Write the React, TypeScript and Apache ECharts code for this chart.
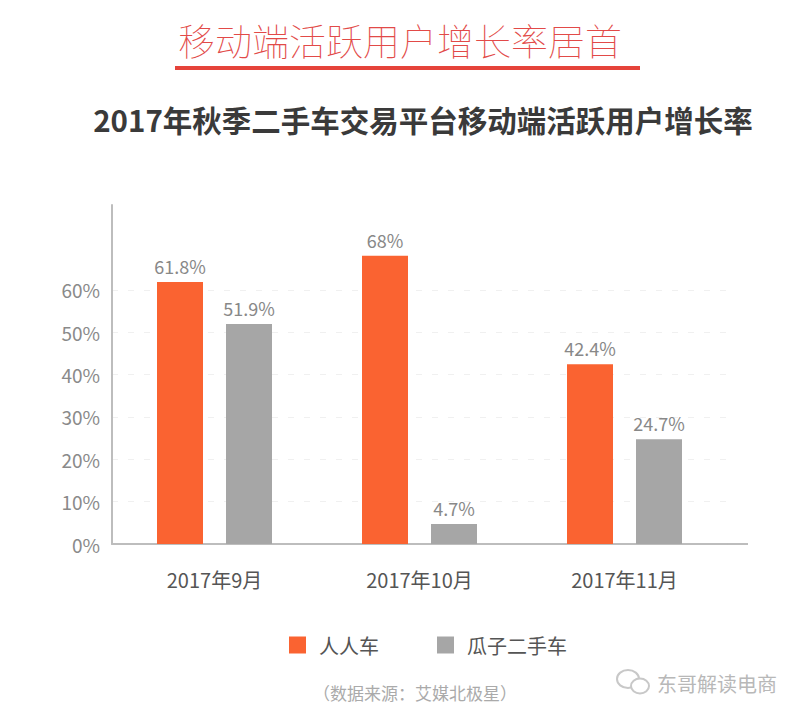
import React, { useEffect, useRef } from "react";
import * as echarts from "echarts";

const categories = ["2017年9月", "2017年10月", "2017年11月"];
const renrenche = [61.8, 68, 42.4];
const guazi = [51.9, 4.7, 24.7];
const seriesNames = ["人人车", "瓜子二手车"];
const yTicks = [0, 10, 20, 30, 40, 50, 60];

const FONT = '"Noto Sans CJK SC", "Noto Sans", sans-serif';

export default function App() {
  const ref = useRef<HTMLDivElement>(null);
  useEffect(() => {
    document.body.style.margin = "0";
    const chart = echarts.init(ref.current!, null, { renderer: "svg" });
    const gridColors = [0, 10, 20, 30, 40, 50, 60, 70, 80].map((v) =>
      v > 0 && yTicks.includes(v) ? "#f0f0f0" : "rgba(0,0,0,0)"
    );
    const barLabel = {
      show: true,
      position: "top",
      distance: 7,
      fontSize: 18,
      color: "#888",
      fontFamily: FONT,
      formatter: (p: any) => p.value + "%",
    };
    chart.setOption({
      animation: false,
      backgroundColor: "#ffffff",
      textStyle: { fontFamily: FONT },
      title: [
        {
          text: "移动端活跃用户增长率居首",
          left: "center",
          top: 16,
          textStyle: { fontSize: 37, fontWeight: "lighter", color: "#e24a48", fontFamily: FONT },
        },
      ],
      legend: {
        data: seriesNames,
        left: 284,
        top: 630,
        itemWidth: 17,
        itemHeight: 17,
        itemGap: 58,
        icon: "rect",
        textStyle: { fontSize: 20, color: "#555", fontFamily: FONT, padding: [0, 0, 0, 8] },
      },
      grid: { left: 112, top: 205, width: 615, height: 339, containLabel: false },
      xAxis: {
        type: "category",
        data: categories,
        axisLine: { lineStyle: { color: "#bdbdbd", width: 2 } },
        axisTick: { show: false },
        axisLabel: { margin: 25, fontSize: 20, color: "#555", fontFamily: FONT },
      },
      yAxis: {
        type: "value",
        min: 0,
        max: 80,
        interval: 10,
        axisLine: { show: true, lineStyle: { color: "#bdbdbd", width: 2 } },
        axisTick: { show: false },
        splitLine: { show: true, lineStyle: { color: gridColors, type: [6, 10], width: 1 } },
        axisLabel: {
          margin: 12,
          fontSize: 19,
          color: "#8a8a8a",
          fontFamily: FONT,
          formatter: (v: number) => (yTicks.includes(v) ? v + "%" : ""),
        },
      },
      series: [
        {
          name: seriesNames[0],
          type: "bar",
          data: renrenche,
          barWidth: 46,
          barGap: "50%",
          itemStyle: { color: "#fa6331" },
          label: barLabel,
        },
        {
          name: seriesNames[1],
          type: "bar",
          data: guazi,
          barWidth: 46,
          itemStyle: { color: "#a6a6a6" },
          label: barLabel,
        },
      ],
      graphic: [
        {
          type: "text",
          x: 423,
          y: 119,
          style: {
            text: "2017年秋季二手车交易平台移动端活跃用户增长率",
            fill: "#3a3a3a",
            fontSize: 29.5,
            fontWeight: "bold",
            fontFamily: FONT,
            align: "center",
            verticalAlign: "middle",
          },
        },
        {
          type: "rect",
          shape: { x: 175, y: 66, width: 465, height: 4 },
          style: { fill: "#e5433a" },
        },
        {
          type: "line",
          shape: { x1: 726, y1: 544, x2: 748, y2: 544 },
          style: { stroke: "#bdbdbd", lineWidth: 2 },
        },
        {
          type: "text",
          x: 415,
          y: 692,
          style: {
            text: "（数据来源：艾媒北极星）",
            fill: "#aaaaaa",
            fontSize: 17,
            fontFamily: FONT,
            align: "center",
            verticalAlign: "middle",
          },
        },
        {
          type: "ellipse",
          shape: { cx: 628, cy: 679, rx: 11, ry: 9 },
          style: { fill: "none", stroke: "#c8c8c8", lineWidth: 2 },
        },
        {
          type: "ellipse",
          shape: { cx: 640, cy: 686, rx: 9, ry: 7.5 },
          style: { fill: "#ffffff", stroke: "#c8c8c8", lineWidth: 2 },
        },
        {
          type: "text",
          x: 657,
          y: 683,
          style: {
            text: "东哥解读电商",
            fill: "#b8b8b8",
            fontSize: 20,
            fontFamily: FONT,
            align: "left",
            verticalAlign: "middle",
          },
        },
      ],
    });
    return () => chart.dispose();
  }, []);
  return <div ref={ref} style={{ width: 800, height: 718 }} />;
}
